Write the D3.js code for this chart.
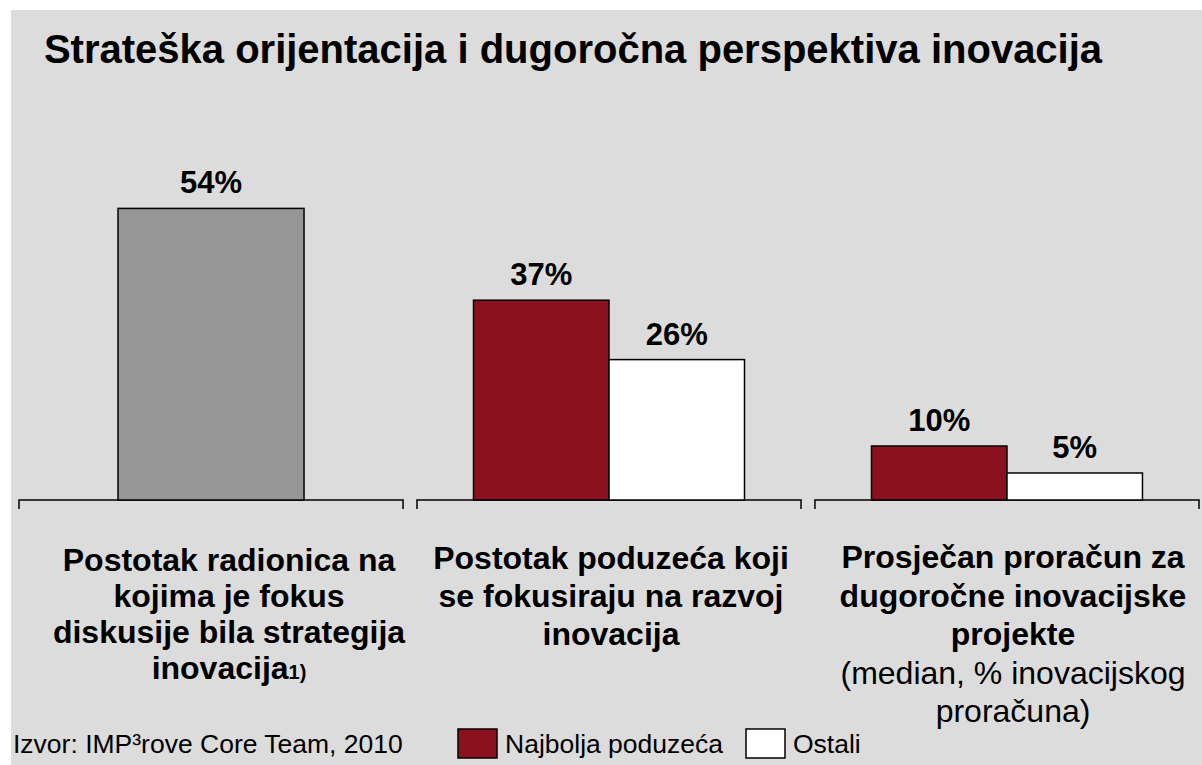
<!DOCTYPE html>
<html>
<head>
<meta charset="utf-8">
<script src="https://cdn.jsdelivr.net/npm/d3@7"></script>
<style>
  html, body { margin: 0; padding: 0; background: #fff; }
  svg { display: block; font-family: "Liberation Sans", Arial, sans-serif; }
</style>
</head>
<body>
<svg id="chart"></svg>
<script>
// Data
const panelKeys = ["radionice", "poduzeca", "proracun"];
const seriesNames = ["Najbolja poduzeća", "Ostali"];
const totalValues = [54, null, null];   // single grey bar (all companies)
const bestValues = [null, 37, 10];
const otherValues = [null, 26, 5];

// Category labels: [text, bold?, note] per line
const labelLines = [
  [["Postotak radionica na", true], ["kojima je fokus", true], ["diskusije bila strategija", true], ["inovacija", true, "1)"]],
  [["Postotak poduzeća koji", true], ["se fokusiraju na razvoj", true], ["inovacija", true]],
  [["Prosječan proračun za", true], ["dugoročne inovacijske", true], ["projekte", true], ["(median, % inovacijskog", false], ["proračuna)", false]]
];
const labelTop = [571, 569, 568];
const labelStep = [36, 38, 38.5];

const titleText = "Strateška orijentacija i dugoročna perspektiva inovacija";
const sourceText = "Izvor: IMP³rove Core Team, 2010";

// Dimensions
const width = 1202;
const height = 765;
const baseY = 500;

const colors = { total: "#969696", best: "#8b111e", other: "#ffffff" };

const svg = d3.select("#chart")
    .attr("width", width)
    .attr("height", height);

// Background panel
svg.append("rect")
    .attr("x", 11).attr("y", 10)
    .attr("width", width - 11).attr("height", height - 10)
    .attr("fill", "#dcdcdc");

// Title
svg.append("text")
    .attr("x", 573).attr("y", 63)
    .attr("text-anchor", "middle")
    .attr("font-size", "40px")
    .attr("font-weight", "bold")
    .text(titleText);

// Scales
const x = d3.scaleBand()
    .domain(panelKeys)
    .range([19, 1199])
    .paddingInner(0.035);

const y = d3.scaleLinear()
    .domain([0, 60])
    .range([baseY, baseY - 60 * 5.4]);

// Bar records
const bars = [];
panelKeys.forEach((k, i) => {
    if (totalValues[i] != null) bars.push({ panel: k, key: "total", value: totalValues[i] });
    if (bestValues[i] != null) bars.push({ panel: k, key: "best", value: bestValues[i] });
    if (otherValues[i] != null) bars.push({ panel: k, key: "other", value: otherValues[i] });
});

function innerScale(panel) {
    const keys = bars.filter(b => b.panel === panel).map(b => b.key);
    const w = keys.length === 1 ? 186 : 271;
    return d3.scaleBand().domain(keys).range([-w / 2, w / 2]);
}
const inner = {};
panelKeys.forEach(k => inner[k] = innerScale(k));
const cx = k => x(k) + x.bandwidth() / 2;

// Brackets (category axis)
svg.selectAll("path.bracket")
    .data(panelKeys)
    .enter()
    .append("path")
    .attr("class", "bracket")
    .attr("d", k => `M${x(k)},${baseY + 9}V${baseY}H${x(k) + x.bandwidth()}V${baseY + 9}`)
    .attr("fill", "none")
    .attr("stroke", "#000")
    .attr("stroke-width", 1.5);

// Bars
svg.selectAll("rect.bar")
    .data(bars)
    .enter()
    .append("rect")
    .attr("class", "bar")
    .attr("x", d => cx(d.panel) + inner[d.panel](d.key))
    .attr("y", d => y(d.value))
    .attr("width", d => inner[d.panel].bandwidth())
    .attr("height", d => y(0) - y(d.value))
    .attr("fill", d => colors[d.key])
    .attr("stroke", "#000")
    .attr("stroke-width", 1.5);

// Value labels
svg.selectAll("text.value")
    .data(bars)
    .enter()
    .append("text")
    .attr("class", "value")
    .attr("x", d => cx(d.panel) + inner[d.panel](d.key) + inner[d.panel].bandwidth() / 2)
    .attr("y", d => y(d.value) - 15)
    .attr("text-anchor", "middle")
    .attr("font-size", "31px")
    .attr("font-weight", "bold")
    .text(d => d.value + "%");

// Category labels
const labelX = [229, 611, 1013];
panelKeys.forEach((k, i) => {
    const t = svg.append("text")
        .attr("text-anchor", "middle")
        .attr("font-size", "32px");
    labelLines[i].forEach((line, j) => {
        const ts = t.append("tspan")
            .attr("x", labelX[i])
            .attr("y", labelTop[i] + j * labelStep[i])
            .attr("font-weight", line[1] ? "bold" : "normal")
            .text(line[0]);
        if (line[2]) {
            ts.append("tspan")
                .attr("font-size", "20px")
                .text(line[2]);
        }
    });
});

// Source
svg.append("text")
    .attr("x", 13).attr("y", 753)
    .attr("font-size", "26.5px")
    .text(sourceText);

// Legend
const legendX = [458, 746];
const legend = svg.selectAll("g.legend")
    .data(seriesNames)
    .enter()
    .append("g")
    .attr("class", "legend")
    .attr("transform", (d, i) => `translate(${legendX[i]},729)`);

legend.append("rect")
    .attr("width", 39).attr("height", 29)
    .attr("fill", (d, i) => i === 0 ? colors.best : colors.other)
    .attr("stroke", "#000")
    .attr("stroke-width", 1.5);

legend.append("text")
    .attr("x", 47).attr("y", 24)
    .attr("font-size", "26.5px")
    .text(d => d);
</script>
</body>
</html>
